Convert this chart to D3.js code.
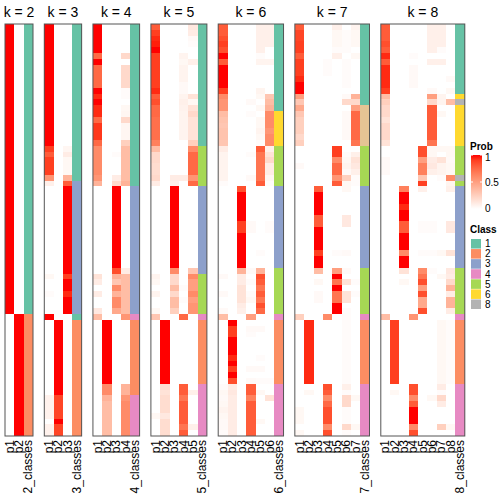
<!DOCTYPE html>
<html><head><meta charset="utf-8">
<script src="https://cdn.jsdelivr.net/npm/d3@7"></script>
<style>body{margin:0;background:#fff}svg{display:block}text{font-family:"Liberation Sans",Arial,sans-serif}</style>
</head><body><svg id="c" width="504" height="504"></svg>
<script>
const ks=[2,3,4,5,6,7,8];
const classIds=[1,2,3,4,5,6,7,8];
const classColors=["#66C2A5","#FC8D62","#8DA0CB","#E78AC3","#A6D854","#FFD92F","#E5C494","#B3B3B3"];
const legendClasses=[1,2,3,4,5,6,8];
const probTicks=[0,0.5,1];

const cls2=[1,1,1,1,1,1,1,1,1,1,1,1,1,1,1,1,1,1,1,1,1,1,1,1,1,1,1,1,1,1,1,1,1,1,1,1,1,1,1,1,1,1,1,1,1,1,1,1,1,1,2,2,2,2,2,2,2,2,2,2,2,2,2,2,2,2,2,2,2,2,2];
const cls3=[1,1,1,1,1,1,1,1,1,1,1,1,1,1,1,1,1,1,1,1,1,1,1,1,1,1,1,3,3,3,3,3,3,3,3,3,3,3,3,3,3,3,3,3,3,3,3,3,3,3,1,2,2,2,2,2,2,2,2,2,2,2,2,2,2,2,2,2,2,2,2];
const cls4=[1,1,1,1,1,1,1,1,1,1,1,1,1,1,1,1,1,1,1,1,1,1,1,1,1,1,1,1,3,3,3,3,3,3,3,3,3,3,3,3,3,3,3,3,3,3,3,3,3,3,4,2,2,2,2,2,2,2,2,2,2,2,2,2,4,4,4,4,4,4,4];
const cls5=[1,1,1,1,1,1,1,1,1,1,1,1,1,1,1,1,1,1,1,1,1,5,5,5,5,5,5,5,3,3,3,3,3,3,3,3,3,3,3,3,3,3,3,5,5,5,5,5,5,5,4,2,2,2,2,2,2,2,2,2,2,2,4,4,4,4,4,4,4,4,4];
const cls6=[1,1,1,1,1,1,1,1,1,1,1,1,1,1,1,6,6,6,6,6,6,5,5,5,5,5,5,5,3,3,3,3,3,3,3,3,3,3,3,3,3,3,5,5,5,5,5,5,5,5,4,2,2,2,2,2,2,2,2,2,2,2,4,4,4,4,4,4,4,4,4];
const cls7=[1,1,1,1,1,1,1,1,1,1,1,1,1,1,7,7,7,7,7,7,7,5,5,5,5,5,5,5,3,3,3,3,3,3,3,3,3,3,3,3,3,3,5,5,5,5,5,5,5,5,4,2,2,2,2,2,2,2,2,2,2,2,4,4,4,4,4,4,4,4,4];
const cls8=[1,1,1,1,1,1,1,1,1,1,1,1,6,8,6,6,6,6,6,6,6,5,5,5,5,5,8,5,3,3,3,3,3,3,3,3,3,3,3,3,3,3,5,5,5,5,5,5,5,5,4,2,2,2,2,2,2,2,2,2,2,2,4,4,4,4,4,4,4,4,4];

const prob2=[[1,0],[1,0],[1,0],[1,0],[1,0],[1,0],[1,0],[1,0],[1,0],[1,0],[1,0],[1,0],[1,0],[1,0],[1,0],[1,0],[1,0],[1,0],[1,0],[1,0],[1,0],[1,0],[1,0],[1,0],[1,0],[1,0],[1,0],[1,0],[1,0],[1,0],[1,0],[1,0],[1,0],[1,0],[1,0],[1,0],[1,0],[1,0],[1,0],[1,0],[1,0],[1,0],[1,0],[1,0],[1,0],[1,0],[1,0],[1,0],[1,0],[1,0],
[0,1],[0,1],[0,1],[0,1],[0,1],[0,1],[0,1],[0,1],[0,1],[0,1],[0,1],[0,1],[0,1],[0,1],[0,1],[0,1],[0,1],[0,1],[0,1],[0,1],[0,1]];

const prob3=[[1,0,0],[1,0,0],[1,0,0],[1,0,0],[1,0,0],[1,0,0],[1,0,0],[1,0,0],[1,0,0],[1,0,0],[1,0,0],[1,0,0],[1,0,0],[1,0,0],[1,0,0],[1,0,0],[1,0,0],[1,0,0],[1,0,0],[1,0,0],[1,0,0],
[0.9,0,0.05],[0.8,0,0.1],[0.9,0,0.04],[0.9,0,0.04],[0.9,0,0.04],[0.55,0,0.4],[0.08,0,0.8],
[0,0,1],[0,0,1],[0,0,1],[0,0,1],[0,0,1],[0,0,1],[0,0,1],[0,0,1],[0,0,1],[0,0,1],[0,0,1],[0,0,1],[0,0,1],[0,0,1],[0,0,1],
[0.04,0,0.9],[0,0,1],[0,0,1],[0.02,0,0.95],[0,0,1],[0,0,1],[0,0,1],
[1,0,0],
[0,1,0],[0,1,0],[0,1,0],[0,1,0],[0,1,0],[0,1,0],[0,1,0],[0,1,0],[0,1,0],[0,1,0],[0,1,0],[0,1,0],[0,1,0],
[0.07,0.88,0],[0.07,0.88,0],[0.07,0.88,0],[0.07,0.88,0],[0,1,0],[0.07,0.88,0],[0.07,0.88,0]];

const prob4=[[1,0,0,0],[1,0,0,0],[1,0,0,0],[1,0,0,0],[1,0,0,0],[0.75,0,0,0.2],[1,0,0,0],[0.75,0,0,0.2],[0.75,0,0,0.2],[0.75,0,0,0.2],[0.75,0,0,0.2],
[1,0,0,0.02],[0.95,0,0,0.02],[1,0,0,0],[0.95,0,0,0.04],[0.95,0,0,0.05],[0.75,0,0,0.2],[0.92,0,0,0.05],[0.92,0,0,0.05],[0.92,0,0,0.05],[0.75,0,0,0.25],
[0.6,0,0,0.35],[0.6,0,0.02,0.35],[0.6,0,0,0.35],[0.6,0,0,0.35],[0.6,0,0,0.35],[0.55,0,0.1,0.35],[0.4,0,0.2,0.4],
[0,0,1,0],[0,0,1,0],[0,0,1,0],[0,0,1,0],[0,0,1,0],[0,0,1,0],[0,0,1,0],[0,0,1,0],[0,0,1,0],[0,0,1,0],[0,0,1,0],[0,0,1,0],[0,0,1,0],[0,0,1,0],
[0,0,0.85,0.1],[0.15,0,0.4,0.35],[0.1,0,0.3,0.35],[0,0,0.6,0.35],[0.1,0,0.4,0.35],[0,0,0.6,0.35],[0,0,0.6,0.35],[0.12,0,0.45,0.35],
[0.35,0,0,0.55],
[0,1,0,0],[0,1,0,0],[0,1,0,0],[0,1,0,0],[0,1,0,0],[0,1,0,0],[0,1,0,0],[0,1,0,0],[0,1,0,0],[0,1,0,0],[0,1,0,0],
[0,0.6,0,0.4],[0,0.6,0,0.4],
[0,0.4,0,0.55],[0,0.35,0,0.6],[0,0.35,0,0.6],[0,0.35,0,0.6],[0,0.35,0,0.6],[0,0.35,0,0.6],[0,0.35,0,0.6]];

const prob5=[[0.8,0,0,0,0.12],[0.9,0,0,0,0.1],[0.95,0,0,0,0.03],[0.97,0,0,0,0.02],[1,0,0,0,0],[0.9,0,0,0.06,0],[0.9,0,0,0.04,0.08],
[0.9,0,0,0.06,0],[0.9,0,0,0.06,0],[0.9,0,0,0.06,0],[0.9,0,0,0.03,0],[0.95,0,0,0.03,0],[0.8,0,0,0.06,0.15],[0.85,0,0,0.08,0.04],
[0.75,0,0,0.07,0.15],[0.75,0,0,0.06,0.2],[0.72,0,0,0.06,0.15],[0.72,0,0,0.06,0.15],[0.72,0,0,0.06,0.15],[0.72,0,0,0.06,0.15],[0.65,0,0,0,0.25],
[0.35,0,0,0,0.6],[0.2,0,0,0,0.75],[0.2,0,0,0,0.75],[0.18,0,0,0,0.75],[0.18,0,0,0,0.75],[0.2,0,0.1,0.1,0.55],[0.1,0,0.08,0,0.75],
[0,0,1,0,0],[0,0,1,0,0],[0,0,1,0,0],[0,0,1,0,0],[0,0,1,0,0],[0,0,1,0,0],[0,0,1,0,0],[0,0,1,0,0],[0,0,1,0,0],[0,0,1,0,0],[0,0,1,0,0],[0,0,1,0,0],[0,0,1,0,0],[0,0,1,0,0],
[0,0,0.6,0,0.3],[0.06,0,0.2,0,0.6],[0.04,0,0.2,0,0.5],[0,0,0.35,0.02,0.5],[0.06,0,0.2,0,0.6],[0,0,0.35,0.02,0.5],[0,0,0.35,0,0.55],[0.04,0,0.25,0,0.55],
[0.3,0,0,0.75,0],
[0,1,0,0,0],[0,1,0,0,0],[0,1,0,0,0],[0,1,0,0,0],[0,1,0,0,0],[0,1,0,0,0],[0,1,0,0,0],[0,1,0,0,0],[0,1,0,0,0],[0,1,0,0,0],[0,1,0,0,0],
[0,0.18,0,0.8,0],[0,0.15,0,0.8,0.08],[0,0.18,0,0.7,0],[0,0.18,0,0.8,0],[0,0.18,0,0.8,0],[0.04,0.12,0,0.8,0],[0,0.18,0,0.8,0],[0,0.18,0,0.7,0.08],[0,0.18,0,0.8,0]];

const prob6=[[0.8,0,0,0,0.08,0.08],[0.8,0,0,0,0.08,0.08],[0.85,0,0,0,0.08,0.08],[0.9,0,0,0,0.08,0.08],[0.85,0,0,0,0.08,0],[1,0,0,0,0.02,0],[0.8,0,0,0,0.06,0.06],
[1,0,0,0,0,0],[1,0,0,0,0,0],[1,0,0,0,0,0],[1,0,0,0,0,0],[0.9,0,0,0,0.06,0],[0.6,0,0,0,0.04,0.3],[0.55,0,0,0.03,0,0.35],[0.55,0,0,0,0.04,0.4],
[0.35,0,0,0.02,0,0.6],[0.32,0,0,0,0.04,0.6],[0.3,0,0,0,0.04,0.6],[0.32,0,0,0,0.06,0.55],[0.32,0,0,0,0.04,0.6],[0.3,0,0,0,0.02,0.6],
[0.1,0,0,0,0.8,0.08],[0.06,0,0,0.02,0.7,0.15],[0.06,0,0,0,0.7,0.2],[0.06,0,0,0,0.7,0.1],[0.06,0,0,0,0.7,0.1],[0.06,0,0,0.03,0.7,0.05],[0.02,0,0,0,0.8,0.02],
[0,0,0.85,0,0,0],[0,0,1,0,0,0],[0,0,1,0,0,0],[0,0,1,0,0,0],[0,0,1,0,0,0],[0,0,1,0,0,0],[0,0,0.9,0.03,0,0.02],[0,0,0.9,0.03,0,0.02],
[0,0,1,0,0,0],[0,0,1,0,0,0],[0,0,1,0,0,0],[0,0,1,0,0.02,0],[0,0,1,0,0,0],[0,0,1,0,0,0],
[0,0,0.4,0.03,0.4,0],[0.03,0,0.1,0,0.85,0],[0,0,0.1,0.02,0.8,0],[0,0,0.15,0,0.7,0],[0.03,0,0.15,0.02,0.8,0],[0,0,0.15,0.04,0.7,0],[0,0,0.1,0,0.85,0],[0.03,0,0.08,0,0.75,0],
[0.35,0,0,0.5,0,0],
[0,1,0,0,0,0],[0,0.9,0,0.03,0.03,0],[0,0.9,0,0.02,0,0],[0,1,0,0,0,0],[0,1,0,0,0,0],[0,1,0,0,0,0],[0,0.95,0,0,0.02,0],[0,1,0,0,0,0],[0,0.9,0,0.03,0.03,0],[0,1,0,0,0,0],[0,0.85,0,0.03,0.02,0.02],
[0.02,0.1,0,0.8,0,0],[0.04,0.12,0,0.8,0.04,0],[0.03,0.1,0,0.65,0,0.15],[0.04,0.1,0,0.8,0,0],[0.06,0.1,0,0.8,0,0],[0.04,0.1,0,0.8,0,0],[0.03,0.1,0,0.8,0.04,0],[0.03,0.1,0,0.8,0,0],[0.02,0.1,0,0.8,0,0]];

const prob7=[[0.8,0,0,0,0.08,0,0.06],[0.88,0,0,0,0.04,0.02,0.04],[0.88,0,0,0,0.04,0.02,0.04],[0.9,0,0,0,0.04,0.02,0.04],[0.9,0,0,0,0.02,0.02,0],[0.8,0,0,0,0.08,0,0.04],
[0.9,0,0,0.02,0,0.02,0],[0.9,0,0,0.02,0,0.02,0],[0.9,0,0,0.02,0,0.02,0],[0.95,0,0,0,0,0.02,0],[1,0,0,0,0,0.02,0],[1,0,0,0,0,0,0],[0.5,0,0,0,0,0.03,0.4],[0.3,0,0,0,0,0.2,0.2],
[0.45,0,0,0,0,0,0.5],[0.3,0,0,0,0,0.03,0.75],[0.25,0,0,0,0,0.03,0.75],[0.25,0,0,0,0,0.03,0.75],[0.25,0,0,0,0,0.03,0.75],[0.2,0,0,0,0,0.03,0.75],[0.25,0,0,0,0,0,0.7],
[0,0,0,0,0.9,0,0],[0,0,0,0,0.9,0.02,0.08],[0,0,0,0,0.6,0.04,0.15],[0.03,0,0,0,0.75,0.06,0.12],[0,0,0,0,0.75,0.03,0.08],[0,0,0,0,0.55,0.25,0.02],[0,0,0,0,0.8,0.04,0.02],
[0,0,0.8,0,0,0.04,0],[0,0,1,0,0,0,0],[0,0,1,0,0,0,0],[0,0,1,0,0,0,0],[0,0,1,0,0,0,0],[0,0,0.8,0,0,0.12,0],[0,0,0.8,0,0,0.12,0],
[0,0,1,0,0,0,0],[0,0,1,0,0,0,0],[0,0,1,0,0,0,0],[0,0,1,0,0,0,0],[0,0,0.9,0,0.02,0.03,0],[0,0,1,0,0,0,0],[0,0,1,0,0,0,0],
[0,0,0.35,0,0.5,0.03,0],[0,0,0,0,1,0,0],[0,0,0.04,0,0.7,0.15,0.02],[0,0,0,0,1,0,0],[0,0,0.03,0,0.7,0.15,0.02],[0,0,0.03,0,0.7,0.15,0],[0,0,0,0,1,0,0],[0,0,0,0,1,0.02,0],
[0.25,0,0,0.6,0,0.02,0],
[0,0.95,0,0,0,0.02,0],[0,0.95,0,0,0,0.02,0],[0,0.95,0,0,0,0.02,0],[0,0.95,0,0,0,0.02,0],[0,0.95,0,0,0,0.02,0],[0,0.95,0,0,0,0.02,0],[0,0.95,0,0,0,0.02,0],[0,0.95,0,0,0,0.02,0],[0,0.95,0,0,0,0.02,0],[0,0.95,0,0,0,0.02,0],[0,0.95,0,0,0,0.02,0],
[0,0,0,0.85,0,0.08,0],[0,0.04,0,0.8,0,0.02,0],[0,0,0,0.6,0,0.2,0.04],[0,0,0,0.75,0,0.2,0],[0.04,0,0,0.85,0,0.02,0],[0.04,0,0,0.85,0,0.02,0],[0.04,0,0,0.85,0,0.02,0],[0,0,0,0.6,0,0.2,0.04],[0.04,0,0,0.85,0,0.02,0]];

const prob8=[[0.8,0,0,0,0,0.08,0.08,0],[0.8,0,0,0,0,0.08,0.08,0],[0.8,0,0,0,0,0.08,0.08,0],[0.85,0,0,0,0,0.08,0.08,0],[0.8,0,0,0,0,0.08,0.02,0],[0.95,0,0,0.02,0,0,0,0],
[0.8,0,0,0,0,0.08,0.08,0],[0.95,0,0,0.03,0,0,0,0],[0.95,0,0,0.03,0,0,0,0],[0.95,0,0,0.03,0,0,0,0.03],[0.95,0,0,0.03,0,0,0,0],[0.9,0,0,0,0,0.03,0,0.04],
[0.35,0,0,0,0,0.5,0.06,0],[0.25,0,0,0,0,0.2,0.06,0.35],[0.2,0,0,0,0,0.8,0,0],[0.2,0,0,0,0,0.8,0.04,0],[0.15,0,0,0,0,0.8,0,0],[0.2,0,0,0,0,0.8,0,0],[0.2,0,0,0,0,0.8,0,0],[0.2,0,0,0,0,0.8,0,0],[0.15,0,0,0,0,0.7,0,0],
[0,0,0,0,0.85,0.04,0.04,0.04],[0,0,0,0,0.85,0.04,0,0.04],[0.03,0,0,0,0.5,0.1,0.15,0.03],[0.03,0,0,0,0.65,0.12,0.06,0.04],[0.03,0,0,0,0.65,0.08,0.06,0.04],[0,0,0,0,0.3,0,0.02,0.6],[0,0,0,0,0.9,0,0,0.06],
[0,0,0.65,0,0.08,0,0,0.08],[0,0,1,0,0,0,0,0],[0,0,1,0,0,0,0,0],[0,0,0.95,0,0,0,0,0],[0,0,1,0,0,0,0,0],[0,0,1,0,0,0,0,0],[0,0,0.8,0,0.02,0.02,0,0.12],[0,0,0.8,0,0.02,0.02,0,0.12],
[0,0,1,0,0,0,0,0],[0,0,1,0,0,0,0,0],[0,0,1,0,0,0,0,0],[0,0,0.6,0,0.02,0.02,0.04,0.15],[0,0,1,0,0,0,0,0],[0,0,1,0,0,0,0,0],
[0,0,0.15,0,0.6,0.02,0,0.12],[0,0,0,0,0.7,0,0.04,0.1],[0,0,0.04,0,0.85,0,0,0.2],[0,0,0,0,0.5,0,0,0.4],[0,0,0,0,0.85,0,0,0.1],[0,0,0,0,0.45,0,0,0.4],[0,0,0,0,0.45,0,0,0.4],[0,0,0,0,0.85,0,0,0.1],
[0.35,0,0,0.55,0,0,0,0],
[0,0.9,0,0,0,0,0.04,0.02],[0,0.9,0,0,0,0,0.04,0.02],[0,0.9,0,0,0,0,0.04,0.02],[0,0.9,0,0,0,0,0.04,0.02],[0,0.9,0,0,0,0,0.04,0.02],[0,0.9,0,0,0,0,0.04,0.02],[0,0.9,0,0,0,0,0.04,0.02],[0,0.9,0,0,0,0,0.04,0.02],[0,0.9,0,0,0,0,0.04,0.02],[0,0.9,0,0,0,0,0.04,0.02],[0,0.9,0,0,0,0,0.04,0.02],
[0,0,0,0.85,0,0,0.1,0],[0,0.04,0,0.85,0,0,0.02,0],[0,0,0,0.6,0,0.04,0.2,0],[0,0,0,0.8,0,0,0.1,0],[0,0,0,1,0,0,0,0],[0,0,0,1,0,0,0,0],[0,0,0,1,0,0,0,0],[0,0,0,0.6,0,0,0.25,0.04],[0,0,0,0.85,0,0,0,0]];

const probs={2:prob2,3:prob3,4:prob4,5:prob5,6:prob6,7:prob7,8:prob8};
const clss={2:cls2,3:cls3,4:cls4,5:cls5,6:cls6,7:cls7,8:cls8};

const svg=d3.select("#c");
const nRows=cls2.length;
const yTop=24,yBottom=436,xLeft=5,xRight=464.8,gap=11.3;
const totalCols=d3.sum(ks,k=>k+1);
const cw=(xRight-xLeft-gap*(ks.length-1))/totalCols;
const y=d3.scaleBand().domain(d3.range(nRows)).range([yTop,yBottom]);
const probColor=d3.scaleLinear().domain([0,1]).range(["#FFFFFF","#FF0000"]).interpolate(d3.interpolateLab);
const classColor=d3.scaleOrdinal().domain(classIds).range(classColors);

let cursor=xLeft;
ks.forEach((k,i)=>{
  const cols=d3.range(1,k+1).map(j=>"p"+j).concat([k+"_classes"]);
  const x=d3.scaleBand().domain(cols).range([cursor,cursor+cols.length*cw]);
  const g=svg.append("g");
  const P=probs[k], C=clss[k];
  const cells=[];
  P.forEach((row,r)=>row.forEach((v,j)=>cells.push({r,col:cols[j],v})));
  const cellG=g.append("g").attr("shape-rendering","crispEdges");
  cellG.selectAll("rect.p").data(cells).join("rect").attr("class","p")
    .attr("x",d=>x(d.col)).attr("y",d=>y(d.r))
    .attr("width",x.bandwidth()).attr("height",y.bandwidth())
    .attr("fill",d=>probColor(d.v));
  cellG.selectAll("rect.c").data(C).join("rect").attr("class","c")
    .attr("x",x(cols[k])).attr("y",(d,r)=>y(r))
    .attr("width",x.bandwidth()).attr("height",y.bandwidth())
    .attr("fill",d=>classColor(d));
  g.append("rect").attr("x",x.range()[0]).attr("y",yTop).attr("width",x.range()[1]-x.range()[0]).attr("height",yBottom-yTop)
    .attr("fill","none").attr("stroke","#555").attr("stroke-width",1);
  g.append("text").attr("x",(x.range()[0]+x.range()[1])/2).attr("y",17).attr("text-anchor","middle")
    .attr("font-size",14).text("k = "+k);
  g.selectAll("text.lab").data(cols).join("text").attr("class","lab")
    .attr("transform",d=>`translate(${x(d)+x.bandwidth()/2},${yBottom+4}) rotate(-90)`)
    .attr("text-anchor","end").attr("dominant-baseline","central").attr("font-size",12).text(d=>d);
  cursor+=cols.length*cw+gap;
});

// legend: Prob
const lx=471;
svg.append("text").attr("x",lx-1).attr("y",150).attr("font-size",10).attr("font-weight","bold").text("Prob");
const grad=svg.append("defs").append("linearGradient").attr("id","pg").attr("x1",0).attr("y1",1).attr("x2",0).attr("y2",0);
d3.range(0,1.0001,0.1).forEach(t=>grad.append("stop").attr("offset",t).attr("stop-color",probColor(t)));
const ly=d3.scaleLinear().domain([0,1]).range([209,155]);
svg.append("rect").attr("x",lx).attr("y",ly(1)).attr("width",11).attr("height",ly(0)-ly(1)).attr("fill","url(#pg)");
probTicks.forEach(t=>{
  svg.append("line").attr("x1",lx).attr("x2",lx+2).attr("y1",ly(t)).attr("y2",ly(t)).attr("stroke","#fff");
  svg.append("line").attr("x1",lx+9).attr("x2",lx+11).attr("y1",ly(t)).attr("y2",ly(t)).attr("stroke","#fff");
  svg.append("text").attr("x",lx+14).attr("y",ly(t)+(t===1?2:t===0?-1:0)).attr("dominant-baseline","central").attr("font-size",10).text(t);
});
// legend: Class
svg.append("text").attr("x",lx-1).attr("y",233).attr("font-size",10).attr("font-weight","bold").text("Class");
const cy=d3.scaleBand().domain(legendClasses).range([239,309]).paddingInner(0.05);
legendClasses.forEach(c=>{
  svg.append("rect").attr("x",lx).attr("y",cy(c)).attr("width",10).attr("height",cy.bandwidth()).attr("fill",classColor(c));
  svg.append("text").attr("x",lx+14).attr("y",cy(c)+cy.bandwidth()/2).attr("dominant-baseline","central").attr("font-size",10).text(c);
});
</script></body></html>
